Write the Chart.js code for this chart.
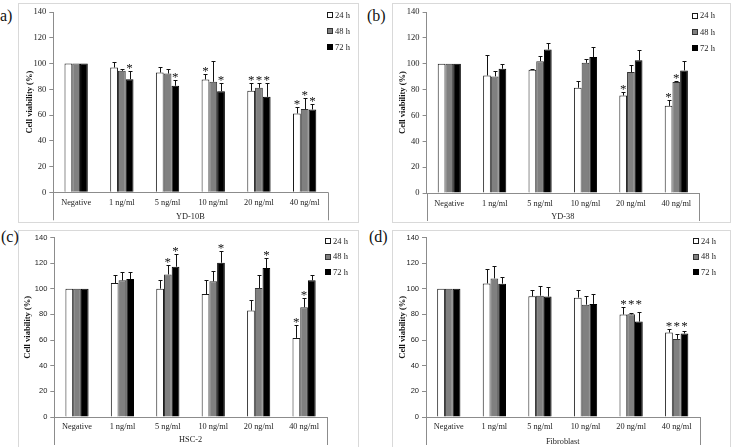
<!DOCTYPE html>
<html><head><meta charset="utf-8">
<script src="https://cdn.jsdelivr.net/npm/chart.js@4.4.0/dist/chart.umd.min.js"></script>
<style>
html,body{margin:0;padding:0;background:#fff;width:735px;height:447px;overflow:hidden;position:relative;}
.frame{position:absolute;border:1px solid #d9d9d9;box-sizing:border-box;}
.cv{position:absolute;}
.lab{position:absolute;font-family:"Liberation Serif",serif;font-size:16px;color:#111;line-height:16px;}
</style></head><body>
<script>
// ---------- DATA ----------
const categories = ['Negative', '1 ng/ml', '5 ng/ml', '10 ng/ml', '20 ng/ml', '40 ng/ml'];
const seriesLabels = ['24 h', '48 h', '72 h'];
const yMin = 0, yMax = 140, yStep = 20;
const cellLines = ['YD-10B', 'YD-38', 'HSC-2', 'Fibroblast'];
const panelLetters = ['a)', '(b)', '(c)', '(d)'];

// (a) YD-10B
const yd10b_24 = [100, 96.9, 93.0, 87.6, 78.8, 61.2];
const yd10b_48 = [100, 94.3, 92.2, 85.8, 81.1, 64.6];
const yd10b_72 = [100, 87.8, 82.7, 78.5, 74.1, 64.3];
const yd10b_24err = [0, 4.4, 4.4, 4.1, 6.2, 5.2];
const yd10b_48err = [0, 1.8, 3.4, 16.0, 3.9, 8.8];
const yd10b_72err = [0, 6.2, 4.3, 6.0, 10.4, 4.2];
const yd10b_24sig = [0, 0, 0, 1, 1, 1];
const yd10b_48sig = [0, 0, 0, 0, 1, 1];
const yd10b_72sig = [0, 1, 1, 1, 1, 1];

// (b) YD-38
const yd38_24 = [100, 90.9, 95.3, 81.4, 75.4, 67.4];
const yd38_48 = [100, 90.2, 102.0, 100.7, 93.5, 85.8];
const yd38_72 = [100, 96.1, 111.0, 105.1, 102.6, 94.8];
const yd38_24err = [0, 15.5, 0.4, 5.6, 2.6, 4.9];
const yd38_48err = [0, 4.1, 3.7, 2.6, 5.7, 1.2];
const yd38_72err = [0, 3.9, 5.2, 7.8, 7.7, 7.0];
const yd38_24sig = [0, 0, 0, 0, 1, 1];
const yd38_48sig = [0, 0, 0, 0, 0, 1];
const yd38_72sig = [0, 0, 0, 0, 0, 0];

// (c) HSC-2
const hsc2_24 = [100, 104.5, 100.1, 95.9, 83.0, 61.7];
const hsc2_48 = [100, 106.6, 111.2, 105.8, 100.6, 85.6];
const hsc2_72 = [100, 107.6, 117.2, 120.3, 116.2, 106.6];
const hsc2_24err = [0, 6.1, 6.7, 11.2, 8.0, 10.4];
const hsc2_48err = [0, 6.7, 7.5, 7.8, 10.4, 7.2];
const hsc2_72err = [0, 5.2, 9.6, 9.3, 7.7, 4.4];
const hsc2_24sig = [0, 0, 0, 0, 0, 1];
const hsc2_48sig = [0, 0, 1, 0, 0, 1];
const hsc2_72sig = [0, 0, 1, 1, 1, 0];

// (d) Fibroblast
const fib_24 = [100, 104.2, 94.1, 93.1, 79.9, 65.9];
const fib_48 = [100, 108.1, 94.6, 87.6, 80.1, 60.9];
const fib_72 = [100, 104.0, 93.9, 88.2, 74.4, 65.1];
const fib_24err = [0, 11.2, 5.2, 6.2, 6.2, 2.8];
const fib_48err = [0, 9.3, 7.3, 7.0, 1.1, 3.9];
const fib_72err = [0, 5.4, 7.7, 8.0, 7.8, 1.8];
const fib_24sig = [0, 0, 0, 0, 1, 1];
const fib_48sig = [0, 0, 0, 0, 1, 1];
const fib_72sig = [0, 0, 0, 0, 1, 1];

// ---------- STYLE / LAYOUT ----------
const SERIF = '"Liberation Serif", "Times New Roman", serif';
const SANS = '"Liberation Sans", Arial, sans-serif';
const AXIS = '#8c8c8c';
const TXT = '#222';
const seriesStyle = [
  {bg: '#ffffff', border: '#1a1a1a'},
  {bg: '#808080', border: '#333333'},
  {bg: '#000000', border: '#000000'}
];

const panels = [
  {frame: {x: 18, y: 3, w: 341, h: 220}, plot: {l: 35.3, r: 309.5, t: 9, b: 189.3}, tickFont: {family: SERIF, size: 8.5},
   yTitlePad: 7, xTitlePad: 1, xLabPad: 6, legend: {x: 309, y0: 12, dy: 16}, letter: {x: 0, y: 7.5}, levelStars: false,
   vals: [yd10b_24, yd10b_48, yd10b_72], errs: [yd10b_24err, yd10b_48err, yd10b_72err], sigs: [yd10b_24sig, yd10b_48sig, yd10b_72sig]},
  {frame: {x: 392, y: 3, w: 339, h: 220}, plot: {l: 34.6, r: 307, t: 9, b: 190}, tickFont: {family: SERIF, size: 8.5},
   yTitlePad: 6, xTitlePad: 1, xLabPad: 6, legend: {x: 300, y0: 12.7, dy: 16.3}, letter: {x: 367, y: 7.5}, levelStars: false,
   vals: [yd38_24, yd38_48, yd38_72], errs: [yd38_24err, yd38_48err, yd38_72err], sigs: [yd38_24sig, yd38_48sig, yd38_72sig]},
  {frame: {x: 18, y: 230, w: 341, h: 217}, plot: {l: 36.3, r: 308.8, t: 7, b: 187}, tickFont: {family: SANS, size: 7.5},
   yTitlePad: 5, xTitlePad: 2, xLabPad: 5, legend: {x: 307, y0: 11, dy: 15.5}, letter: {x: 1, y: 229}, levelStars: false,
   vals: [hsc2_24, hsc2_48, hsc2_72], errs: [hsc2_24err, hsc2_48err, hsc2_72err], sigs: [hsc2_24sig, hsc2_48sig, hsc2_72sig]},
  {frame: {x: 392, y: 230, w: 339, h: 217}, plot: {l: 34, r: 307.5, t: 7, b: 187}, tickFont: {family: SANS, size: 7.5},
   yTitlePad: 6, xTitlePad: 0, xLabPad: 5, legend: {x: 301, y0: 11, dy: 15.5}, letter: {x: 369, y: 229}, levelStars: true,
   vals: [fib_24, fib_48, fib_72], errs: [fib_24err, fib_48err, fib_72err], sigs: [fib_24sig, fib_48sig, fib_72sig]}
];

// ---------- PLUGINS ----------
const errorBarPlugin = {
  id: 'errbars',
  afterDatasetsDraw(chart, args, opts) {
    const ctx = chart.ctx, ys = chart.scales.y;
    const tops = [];
    chart.data.datasets.forEach((ds, di) => {
      const meta = chart.getDatasetMeta(di);
      meta.data.forEach((bar, i) => {
        const e = ds.err[i];
        const top = ys.getPixelForValue(ds.data[i] + e);
        tops.push({di, i, x: bar.x, top});
        if (!e) return;
        const x = Math.round(bar.x) + 0.5;
        const yt = Math.round(top) + 0.5;
        ctx.save();
        ctx.strokeStyle = '#111'; ctx.lineWidth = 1;
        ctx.beginPath();
        ctx.moveTo(x, bar.y); ctx.lineTo(x, yt);
        ctx.moveTo(x - 2, yt); ctx.lineTo(x + 2, yt);
        ctx.stroke();
        ctx.restore();
      });
    });
    // significance asterisks
    ctx.save();
    ctx.fillStyle = '#111';
    ctx.font = '13px ' + SERIF;
    ctx.textAlign = 'center';
    ctx.textBaseline = 'alphabetic';
    chart.data.datasets.forEach((ds, di) => {
      ds.sig.forEach((s, i) => {
        if (!s) return;
        const t = tops.find(o => o.di === di && o.i === i);
        let top = t.top;
        if (opts.level) {
          top = Math.min(...tops.filter(o => o.i === i).map(o => o.top));
        }
        ctx.fillText('*', t.x, top + 1);
      });
    });
    ctx.restore();
  }
};

const axisExtPlugin = {
  id: 'axisext',
  afterDraw(chart) {
    const ctx = chart.ctx, a = chart.chartArea;
    ctx.save();
    ctx.strokeStyle = AXIS; ctx.lineWidth = 1;
    ctx.beginPath();
    const l = Math.round(a.left) + 0.5, r = Math.round(a.right) + 0.5;
    ctx.moveTo(l, a.bottom); ctx.lineTo(l, a.bottom + 28);
    ctx.moveTo(r, a.bottom); ctx.lineTo(r, a.bottom + 28);
    ctx.stroke();
    ctx.restore();
  }
};

const legendPlugin = {
  id: 'boxlegend',
  afterDraw(chart, args, opts) {
    const ctx = chart.ctx;
    ctx.save();
    chart.data.datasets.forEach((ds, i) => {
      const y = opts.y0 + i * opts.dy;
      const x = Math.round(opts.x);
      const yy = Math.round(y - 3);
      ctx.fillStyle = ds.backgroundColor;
      ctx.fillRect(x, yy, 6, 6);
      ctx.strokeStyle = ds.borderColor; ctx.lineWidth = 1;
      ctx.strokeRect(x + 0.5, yy + 0.5, 5, 5);
      ctx.fillStyle = TXT;
      ctx.font = '8.5px ' + SERIF;
      ctx.textBaseline = 'middle'; ctx.textAlign = 'left';
      ctx.fillText(ds.label, x + 8, y + 0.5);
    });
    ctx.restore();
  }
};

// ---------- BUILD ----------
panels.forEach((p, pi) => {
  const fr = document.createElement('div');
  fr.className = 'frame';
  fr.style.left = p.frame.x + 'px'; fr.style.top = p.frame.y + 'px';
  fr.style.width = p.frame.w + 'px'; fr.style.height = (p.frame.h + (pi > 1 ? 20 : 0)) + 'px';
  document.body.appendChild(fr);

  const lab = document.createElement('div');
  lab.className = 'lab';
  lab.style.left = p.letter.x + 'px'; lab.style.top = p.letter.y + 'px';
  lab.textContent = panelLetters[pi];
  document.body.appendChild(lab);

  const cv = document.createElement('canvas');
  cv.className = 'cv';
  cv.width = p.frame.w; cv.height = p.frame.h;
  cv.style.left = p.frame.x + 'px'; cv.style.top = p.frame.y + 'px';
  cv.style.width = p.frame.w + 'px'; cv.style.height = p.frame.h + 'px';
  document.body.appendChild(cv);

  const W = p.frame.w, H = p.frame.h;
  new Chart(cv, {
    type: 'bar',
    data: {
      labels: categories,
      datasets: seriesLabels.map((lbl, si) => ({
        label: lbl,
        data: p.vals[si],
        err: p.errs[si],
        sig: p.sigs[si],
        backgroundColor: seriesStyle[si].bg,
        borderColor: seriesStyle[si].border,
        borderWidth: 1,
        borderSkipped: 'start',
        categoryPercentage: 0.51,
        barPercentage: 1.0
      }))
    },
    options: {
      responsive: false, animation: false, devicePixelRatio: 1,
      layout: {padding: {left: 0, right: W - p.plot.r, top: p.plot.t, bottom: 0}},
      plugins: {
        legend: {display: false}, tooltip: {enabled: false},
        boxlegend: p.legend,
        errbars: {level: p.levelStars}
      },
      scales: {
        x: {
          grid: {display: true, drawOnChartArea: false, drawTicks: false, color: AXIS},
          border: {display: true, color: AXIS, width: 1},
          ticks: {font: {family: SERIF, size: 8.3}, color: TXT, padding: p.xLabPad, maxRotation: 0, autoSkip: false},
          title: {display: true, text: cellLines[pi], font: {family: SERIF, size: 8.3}, color: TXT, padding: {top: 0, bottom: p.xTitlePad}},
          afterFit: (s) => { s.height = H - p.plot.b; }
        },
        y: {
          min: yMin, max: yMax,
          grid: {display: true, drawOnChartArea: false, drawTicks: true, tickLength: 4, color: AXIS},
          border: {display: true, color: AXIS, width: 1},
          ticks: {stepSize: yStep, font: p.tickFont, color: TXT, padding: 3},
          title: {display: true, text: 'Cell viability (%)', font: {family: SERIF, size: 8.5, weight: 'bold'}, color: '#111', padding: {top: p.yTitlePad, bottom: 0}},
          afterFit: (s) => { s.width = p.plot.l; }
        }
      }
    },
    plugins: [errorBarPlugin, axisExtPlugin, legendPlugin]
  });
});
</script>
</body></html>
